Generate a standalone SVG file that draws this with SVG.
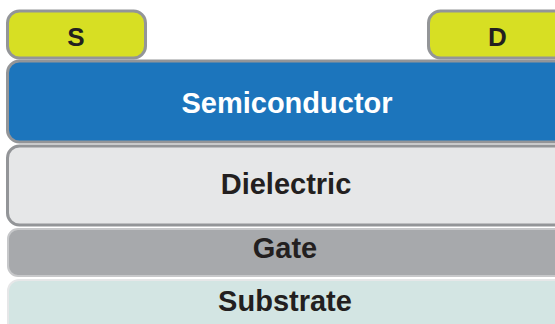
<svg xmlns="http://www.w3.org/2000/svg" width="555" height="324" viewBox="0 0 555 324">
<style>
.lbl{font-family:"Liberation Sans",Arial,Helvetica,sans-serif;font-weight:bold;text-anchor:middle;fill:#231f20}
.big{font-size:29px}
.sm{font-size:26px}
.dark{stroke:#939598;stroke-width:3}
</style>
<rect width="555" height="324" fill="#ffffff"/>
<g id="substrate">
<rect x="8" y="280" width="600" height="70" rx="11" fill="#d3e5e3" stroke="#e6e7e8" stroke-width="2"/>
<text class="lbl big" x="285" y="311">Substrate</text>
</g>
<g id="gate">
<rect x="8" y="229" width="600" height="47" rx="10" fill="#a7a9ac" stroke="#c7c8ca" stroke-width="2"/>
<text class="lbl big" x="285" y="258">Gate</text>
</g>
<g id="dielectric">
<rect x="7.5" y="146" width="600" height="79" rx="12" fill="#e6e7e8" class="dark"/>
<text class="lbl big" x="286" y="194">Dielectric</text>
</g>
<g id="semiconductor">
<rect x="7.5" y="61" width="600" height="81" rx="12" fill="#1c75bc" class="dark"/>
<text class="lbl big" x="287" y="113" style="fill:#ffffff">Semiconductor</text>
</g>
<g id="source">
<rect x="7.5" y="11" width="138" height="47" rx="12" fill="#d7df23" class="dark"/>
<text class="lbl sm" x="76" y="46">S</text>
</g>
<g id="drain">
<rect x="428.5" y="11" width="150" height="47" rx="12" fill="#d7df23" class="dark"/>
<text class="lbl sm" x="497.5" y="46">D</text>
</g>
<g id="connectors"></g>
</svg>
